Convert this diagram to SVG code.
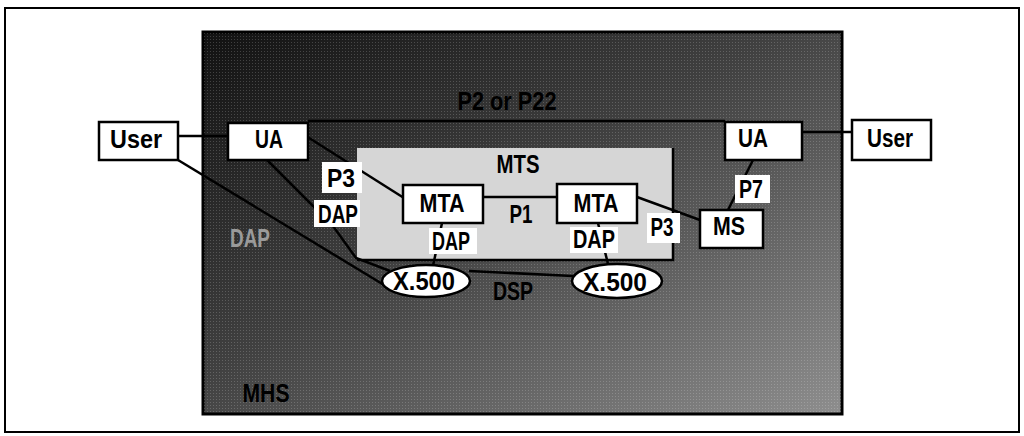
<svg xmlns="http://www.w3.org/2000/svg" width="1024" height="436" viewBox="0 0 1024 436">
<style>
text{font-family:"Liberation Sans Narrow","Liberation Sans",Arial,sans-serif;font-weight:bold;font-size:25px;text-anchor:middle}
.box{fill:#fff;stroke:#000;stroke-width:2.5}
.line{stroke:#000;stroke-width:2.5;fill:none}
.lbl{fill:#fff}
</style>
<defs>
<linearGradient id="mhsGrad" x1="0" y1="0" x2="1" y2="1">
<stop offset="0" stop-color="#111"/>
<stop offset="0.45" stop-color="#404040"/>
<stop offset="1" stop-color="#8e8e8e"/>
</linearGradient>
<pattern id="dots" width="3" height="3" patternUnits="userSpaceOnUse">
<rect x="0" y="0" width="1" height="1" fill="#fff" fill-opacity="0.18"/>
</pattern>
</defs>
<rect x="5" y="8" width="1014" height="424" fill="#fff" stroke="#000" stroke-width="2"/>
<g id="mhs">
<rect x="203" y="32" width="639" height="382" fill="url(#mhsGrad)" stroke="#000" stroke-width="3"/>
<rect x="203" y="32" width="639" height="382" fill="url(#dots)"/>
<text x="266" y="402" textLength="47" lengthAdjust="spacingAndGlyphs">MHS</text>
</g>
<g id="mts">
<rect x="357" y="148" width="316" height="112" fill="#d6d6d6"/>
<path d="M673,148 V260 H357" class="line" stroke-width="3"/>
<text x="518" y="173" textLength="43" lengthAdjust="spacingAndGlyphs">MTS</text>
</g>
<g id="connectors">
<line class="line" x1="178" y1="136" x2="228" y2="136"/>
<line class="line" x1="308" y1="121" x2="725" y2="121"/>
<line class="line" x1="802" y1="132" x2="852" y2="132"/>
<line class="line" x1="178" y1="160" x2="384" y2="285"/>
<polyline class="line" points="267,160 333,226 356,258 390,271"/>
<line class="line" x1="306" y1="136" x2="404" y2="198"/>
<line class="line" x1="483" y1="197" x2="557" y2="197"/>
<line class="line" x1="637" y1="197" x2="700" y2="220"/>
<line class="line" x1="753" y1="160" x2="728" y2="210"/>
<line class="line" x1="442" y1="223" x2="433" y2="266"/>
<line class="line" x1="598" y1="223" x2="608" y2="264"/>
<line class="line" x1="469" y1="271" x2="573" y2="276"/>
<text x="507" y="110" textLength="99" lengthAdjust="spacingAndGlyphs">P2 or P22</text>
<rect class="lbl" x="322" y="162" width="40" height="31"/>
<text x="341" y="187" textLength="28" lengthAdjust="spacingAndGlyphs">P3</text>
<rect class="lbl" x="314" y="200" width="46" height="27"/>
<text x="338" y="223" textLength="40" lengthAdjust="spacingAndGlyphs">DAP</text>
<text x="250" y="247" textLength="40" lengthAdjust="spacingAndGlyphs" fill="#9a9a9a">DAP</text>
<text x="521" y="223" textLength="23" lengthAdjust="spacingAndGlyphs">P1</text>
<rect class="lbl" x="429" y="228" width="48" height="26"/>
<text x="451" y="250" textLength="38" lengthAdjust="spacingAndGlyphs">DAP</text>
<rect class="lbl" x="570" y="227" width="48" height="26"/>
<text x="594" y="248" textLength="42" lengthAdjust="spacingAndGlyphs">DAP</text>
<rect class="lbl" x="647" y="213" width="33" height="30"/>
<text x="662" y="236" textLength="23" lengthAdjust="spacingAndGlyphs">P3</text>
<rect class="lbl" x="735" y="175" width="35" height="28"/>
<text x="751" y="198" textLength="24" lengthAdjust="spacingAndGlyphs">P7</text>
<text x="513" y="300" textLength="40" lengthAdjust="spacingAndGlyphs">DSP</text>
</g>
<g id="user-left">
<rect class="box" x="99" y="122" width="79" height="38"/>
<text x="136" y="148" textLength="52" lengthAdjust="spacingAndGlyphs">User</text>
</g>
<g id="ua-left">
<rect class="box" x="228" y="123" width="80" height="37"/>
<text x="269" y="148" textLength="28" lengthAdjust="spacingAndGlyphs">UA</text>
</g>
<g id="ua-right">
<rect class="box" x="725" y="122" width="77" height="38"/>
<text x="753" y="147" textLength="30" lengthAdjust="spacingAndGlyphs">UA</text>
</g>
<g id="user-right">
<rect class="box" x="852" y="120" width="79" height="40"/>
<text x="890" y="147" textLength="46" lengthAdjust="spacingAndGlyphs">User</text>
</g>
<g id="mta-left">
<rect class="box" x="403" y="185" width="80" height="38"/>
<text x="442" y="212" textLength="45" lengthAdjust="spacingAndGlyphs">MTA</text>
</g>
<g id="mta-right">
<rect class="box" x="557" y="184" width="80" height="39"/>
<text x="596" y="212" textLength="45" lengthAdjust="spacingAndGlyphs">MTA</text>
</g>
<g id="ms">
<rect class="box" x="700" y="210" width="63" height="38"/>
<text x="729" y="235" textLength="32" lengthAdjust="spacingAndGlyphs">MS</text>
</g>
<g id="x500-left">
<ellipse class="box" cx="426" cy="281" rx="44" ry="16"/>
<text x="424" y="290" textLength="62" lengthAdjust="spacingAndGlyphs">X.500</text>
</g>
<g id="x500-right">
<ellipse class="box" cx="617" cy="281" rx="45" ry="17"/>
<text x="615" y="291" textLength="64" lengthAdjust="spacingAndGlyphs">X.500</text>
</g>
</svg>
